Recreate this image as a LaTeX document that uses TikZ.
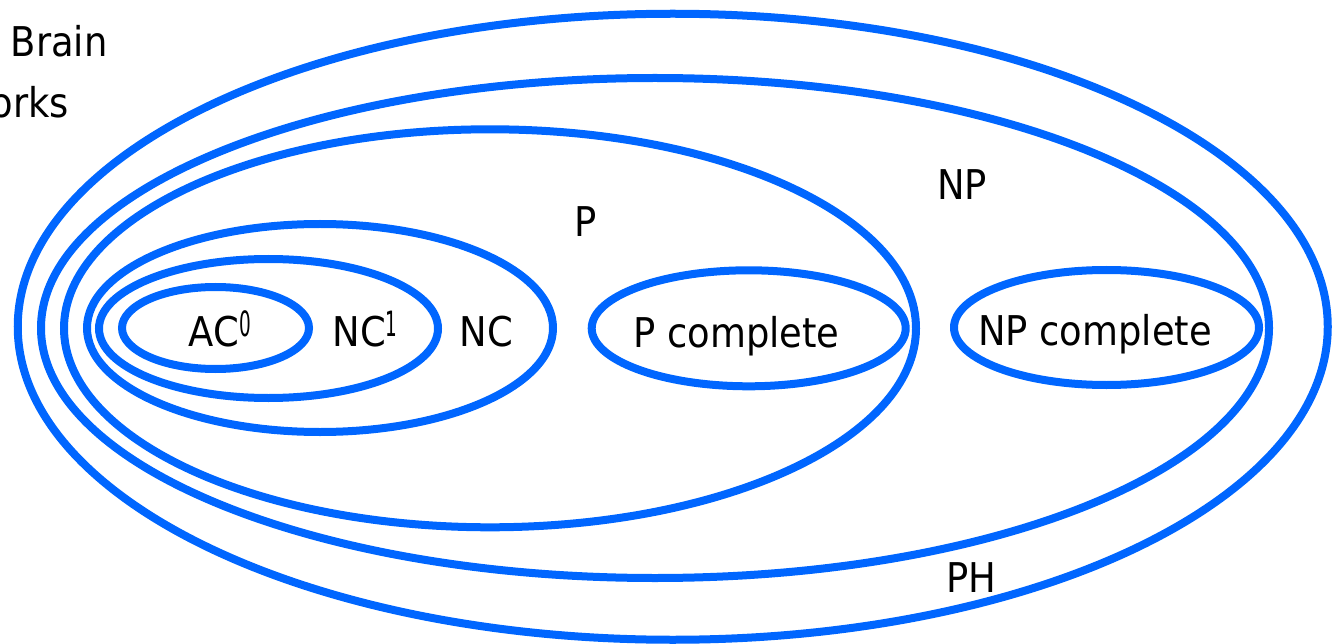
\documentclass[tikz,border=0pt]{standalone}
\usepackage{fontspec}
\setmainfont{DejaVu Sans}[FakeStretch=0.9]
\usetikzlibrary{shapes.geometric}
\definecolor{setblue}{HTML}{0066FF}
\begin{document}
\begin{tikzpicture}[x=1pt,y=-1pt,
  setell/.style={draw=setblue, line width=8pt, ellipse, inner sep=0pt, fill=none},
  lbl/.style={anchor=base, inner sep=0pt, font=\fontsize{41}{41}\selectfont},
  sup/.style={}]
\newcommand{\mysup}[1]{\raisebox{10pt}{\scalebox{0.5}[0.85]{#1}}}
\useasboundingbox (0,0) rectangle (1338,644);
\clip (0,0) rectangle (1338,644);
\node[setell, minimum width=1310pt, minimum height=626pt] (ph) at (672.75,326.75) {};
\node[setell, minimum width=1228pt, minimum height=500pt] (np) at (655,328) {};
\node[setell, minimum width=852pt, minimum height=398pt] (p) at (490,328.3) {};
\node[setell, minimum width=466pt, minimum height=208pt] (nc) at (320,328) {};
\node[setell, minimum width=339pt, minimum height=139pt] (nc1) at (268.5,328.5) {};
\node[setell, minimum width=187pt, minimum height=82pt] (ac0) at (215.5,328) {};
\node[setell, minimum width=314pt, minimum height=116pt] (pc) at (748.7,328.3) {};
\node[setell, minimum width=305pt, minimum height=115pt] (npc) at (1106.5,327.5) {};
\node[lbl, anchor=base west] (brain) at (10.7,57) {Brain};
\node[lbl, anchor=base east] (orks) at (69,118) {orks};
\node[lbl] (lac0) at (220,346.7) {AC\mysup{0}};
\node[lbl] (lnc1) at (365,346.7) {NC\mysup{1}};
\node[lbl] (lnc) at (486.5,346.7) {NC};
\node[lbl] (lpc) at (736.5,347) {P complete};
\node[lbl] (lnpc) at (1095,345) {NP complete};
\node[lbl] (lp) at (586,236.7) {P};
\node[lbl] (lnp) at (962,200) {NP};
\node[lbl] (lph) at (971,592.3) {PH};
\end{tikzpicture}
\end{document}
